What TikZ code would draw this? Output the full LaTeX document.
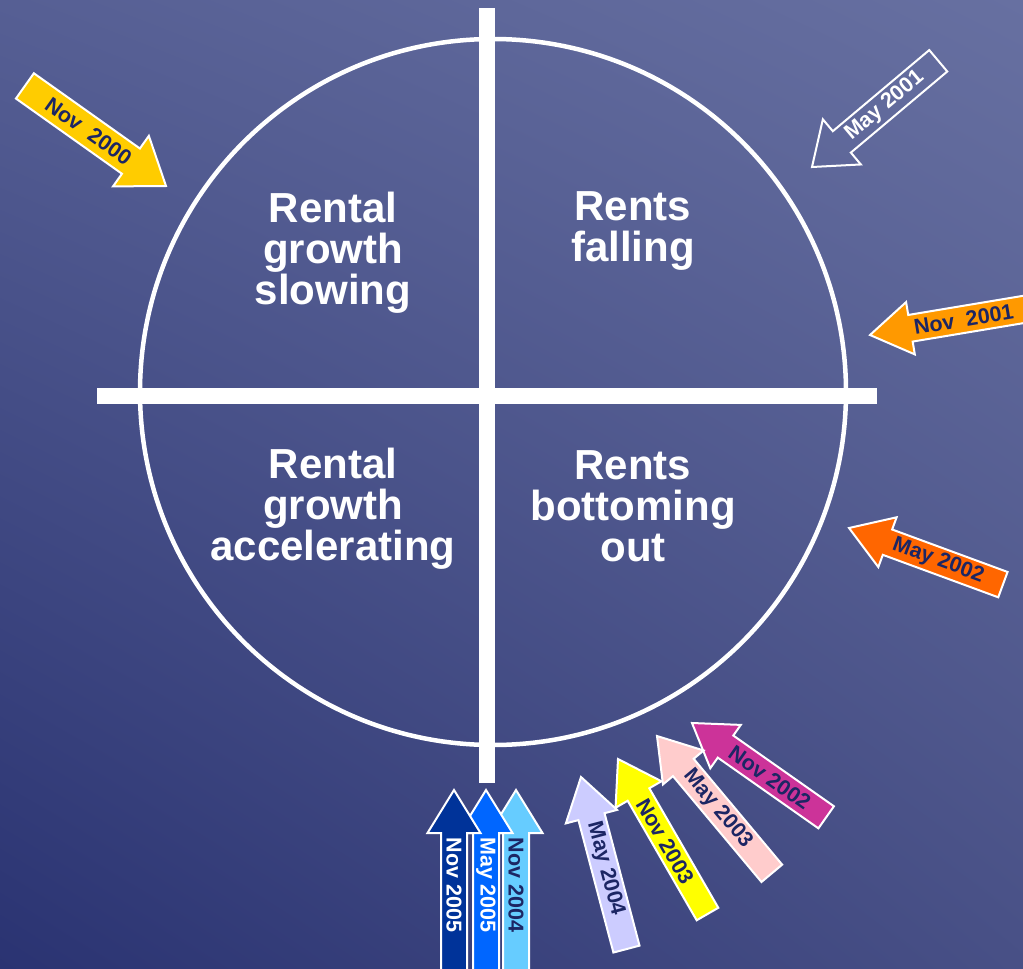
\documentclass[tikz,border=0pt]{standalone}
\usepackage{fontspec}
\setmainfont{Liberation Sans}
\usetikzlibrary{shadings}
\definecolor{bgTL}{RGB}{86,95,148}
\definecolor{bgTR}{RGB}{103,112,161}
\definecolor{bgBL}{RGB}{42,51,114}
\definecolor{bgBR}{RGB}{72,80,134}
\definecolor{navy}{RGB}{28,38,100}
\definecolor{cYellow}{RGB}{255,204,0}
\definecolor{cOrange}{RGB}{255,153,0}
\definecolor{cRedOrange}{RGB}{255,102,0}
\definecolor{cMagenta}{RGB}{204,51,153}
\definecolor{cPink}{RGB}{255,204,204}
\definecolor{cLemon}{RGB}{255,255,0}
\definecolor{cLavender}{RGB}{204,204,255}
\definecolor{cSky}{RGB}{102,204,255}
\definecolor{cBlue}{RGB}{0,102,255}
\definecolor{cDeep}{RGB}{0,51,153}
% #1 name, #2 tip, #3 direction tip->tail, #4 length, #5 fill, #6 text colour, #7 text, #8 text rotation
\newcommand\blockarrow[8]{%
  \begin{scope}[shift={#2}, rotate=#3]
    \filldraw[arrowline, fill=#5] (0,0) -- (\hl,\hw) -- (\hl,\sw) -- (#4,\sw)
      -- (#4,-\sw) -- (\hl,-\sw) -- (\hl,-\hw) -- cycle;
    \node[lbl, text=#6, rotate=#8] (#1) at (95,0) {#7};
  \end{scope}}
\begin{document}
\begin{tikzpicture}[x=1pt,y=1pt,
  arrowline/.style={draw=white, line width=2pt, line join=miter},
  lbl/.style={font=\bfseries\fontsize{21.5}{23}\selectfont, inner sep=0pt},
  quad/.style={text=white, font=\bfseries\fontsize{42}{41}\selectfont, align=center, inner sep=0pt},
  bar/.style={white, line width=16pt}]
\useasboundingbox (0,0) rectangle (1023,-969);
\clip (0,0) rectangle (1023,-969);
\shade[upper left=bgTL, upper right=bgTR, lower left=bgBL, lower right=bgBR] (0,0) rectangle (1023,-969);

% cycle clock
\draw[white, line width=4.5pt] (493,-392) circle[radius=353];
\draw[bar] (487,-8) -- (487,-783);
\draw[bar] (97,-396) -- (877,-396);

\node[quad] (q1) at (333,-253) {Rental\\growth\\slowing};
\node[quad] (q2) at (633,-231) {Rents\\falling};
\node[quad] (q3) at (333,-509) {Rental\\growth\\accelerating};
\node[quad] (q4) at (633,-506) {Rents\\bottoming\\out};

% arrows
\def\sw{15.5}\def\hw{31}\def\hl{43}
\blockarrow{a1}{(166,-186)}{144.65}{173}{cYellow}{navy}{Nov\ \ 2000}{-35.35}
\def\sw{14}\def\hw{29.5}\def\hl{39}
\blockarrow{a2}{(812,-167)}{40.07}{165}{none}{white}{May 2001}{40.07}
\def\sw{13.5}\def\hw{26.5}\def\hl{41}
\blockarrow{a3}{(870,-335)}{9.46}{180}{cOrange}{navy}{Nov\ \ 2001}{9.46}
\blockarrow{a4}{(849,-528)}{-20.2}{164}{cRedOrange}{navy}{May 2002}{-20.2}
\blockarrow{a5}{(692,-723)}{-35.1}{164}{cMagenta}{navy}{Nov 2002}{-35.1}
\blockarrow{a6}{(657,-736)}{-50.1}{179}{cPink}{navy}{May 2003}{-50.1}
\def\sw{12.5}
\blockarrow{a7}{(618,-759)}{-60}{179}{cLemon}{navy}{Nov 2003}{-60}
\def\sw{13.5}
\blockarrow{a8}{(581,-777)}{-75.2}{178}{cLavender}{navy}{May 2004}{-75.2}
\def\sw{13}\def\hl{43}
\blockarrow{a9}{(516,-790)}{-90}{200}{cSky}{navy}{Nov 2004}{-90}
\blockarrow{a10}{(486,-790)}{-90}{200}{cBlue}{white}{May 2005}{-90}
\blockarrow{a11}{(454,-790)}{-90}{200}{cDeep}{white}{Nov 2005}{-90}
\end{tikzpicture}
\end{document}
